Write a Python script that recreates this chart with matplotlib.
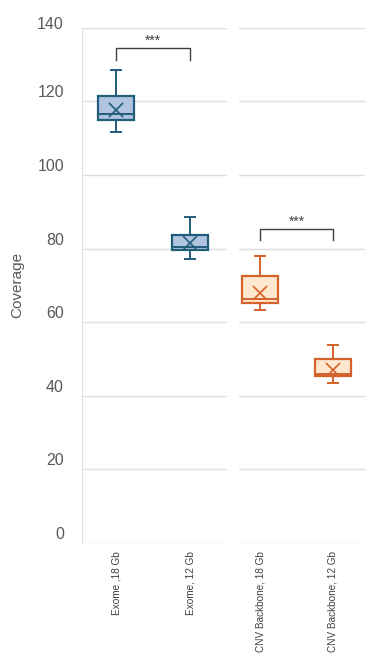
import matplotlib.pyplot as plt
from matplotlib.transforms import ScaledTranslation

# Coverage summary per sample (read as box statistics)
labels = ['Exome ,18 Gb', 'Exome, 12 Gb', 'CNV Backbone, 18 Gb', 'CNV Backbone, 12 Gb']
whis_lo = [111.6, 77.2, 63.2, 43.6]
q1 = [114.9, 79.5, 65.3, 45.4]
median = [116.6, 80.4, 66.2, 46.0]
q3 = [121.4, 83.6, 72.5, 49.9]
whis_hi = [128.6, 88.5, 77.9, 53.7]
mean = [117.7, 81.4, 68.0, 47.1]

# significance brackets: (bar height, tick bottom) per panel
sig_top = [134.4, 85.3]
sig_low = [131.3, 82.4]
sig_text = ['***', '***']

edge_colors = ['#235d7c', '#d4622a']
fill_colors = ['#afc4de', '#fde8cf']
grid_color = '#dedede'
text_color = '#595959'
font = ['Liberation Sans', 'DejaVu Sans']

W, H = 365, 657
fig = plt.figure(figsize=(W / 100, H / 100), dpi=100)

ax_l = fig.add_axes([82 / W, 114 / H, 145 / W, 515.2 / H])
ax_r = fig.add_axes([239 / W, 114 / H, 126 / W, 515.2 / H])

panels = [(ax_l, (-0.46, 1.5)), (ax_r, (-0.29, 1.44))]

for p, (ax, xl) in enumerate(panels):
    stats = []
    for i in (2 * p, 2 * p + 1):
        stats.append(dict(whislo=whis_lo[i], q1=q1[i], med=median[i], q3=q3[i],
                          whishi=whis_hi[i], mean=mean[i], fliers=[]))
    ec = edge_colors[p]
    ax.bxp(stats, positions=[0, 1], widths=0.49, patch_artist=True,
           showmeans=True, showfliers=False,
           boxprops=dict(facecolor=fill_colors[p], edgecolor=ec, linewidth=1.6),
           medianprops=dict(color=ec, linewidth=1.4),
           whiskerprops=dict(color=ec, linewidth=1.4),
           capprops=dict(color=ec, linewidth=1.4),
           meanprops=dict(marker='x', markeredgecolor=ec, markersize=10,
                          markeredgewidth=1.2),
           capwidths=0.14)

    ax.set_ylim(0, 140)
    ax.set_xlim(*xl)
    ax.set_yticks(range(0, 141, 20))
    ax.grid(axis='y', color=grid_color, linewidth=1.0)
    ax.set_axisbelow(True)
    for s in ax.spines.values():
        s.set_visible(False)
    ax.tick_params(length=0)
    ax.set_xticks([0, 1])
    ax.set_xticklabels(labels[2 * p:2 * p + 2], rotation=90, va='top',
                       fontsize=7.2, color='#404040', family=font)
    ax.tick_params(axis='x', pad=6)

    # bracket with stars
    ax.plot([0, 0, 1, 1], [sig_low[p], sig_top[p], sig_top[p], sig_low[p]],
            color='#404040', linewidth=1)
    ax.text(0.5, sig_top[p] + 0.1, sig_text[p], ha='center', va='bottom',
            fontsize=10, color='#404040', family=font)

ax_l.spines['left'].set_visible(True)
ax_l.spines['left'].set_color(grid_color)
ax_l.tick_params(axis='y', pad=13, labelsize=11.5, labelcolor=text_color)
for t, lab in zip(ax_l.get_yticks(), ax_l.get_yticklabels()):
    dy = 5 if t == 140 else 10
    lab.set_transform(lab.get_transform() + ScaledTranslation(0, dy / 100, fig.dpi_scale_trans))
    lab.set_family(font)
ax_l.set_ylabel('Coverage', fontsize=11, color=text_color, family=font)
ax_l.yaxis.set_label_coords(-0.448, 0.5)
ax_l.yaxis.label.set_va('center')
ax_r.set_yticklabels([])

fig.savefig('out.png', dpi=100)
